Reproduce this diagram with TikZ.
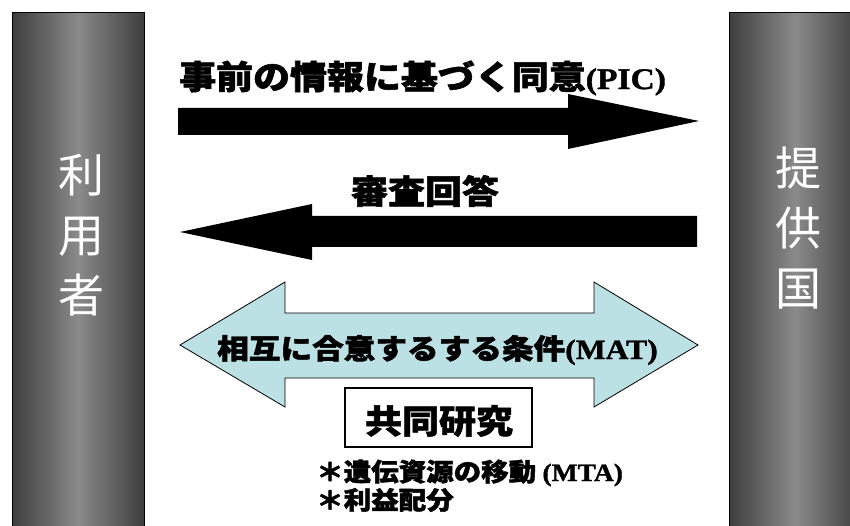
\documentclass[tikz,border=0pt]{standalone}
\usepackage{fontspec}
\newfontfamily\jp{Noto Sans CJK JP}[BoldFeatures={FakeBold=1.6}]
\newfontfamily\lat{Liberation Serif}[BoldFeatures={FakeBold=1.2}]
\definecolor{pdark}{RGB}{62,62,62}
\definecolor{plight}{RGB}{138,138,138}
\definecolor{matblue}{RGB}{188,225,228}
\tikzset{
  pillar/.style={left color=pdark,right color=pdark,middle color=plight},
  pillartext/.style={text=white,inner sep=0pt,align=center,font=\jp\fontsize{46}{60}\selectfont},
  bigtext/.style={inner sep=0pt,text=black,font=\jp\bfseries},
  bigarrow/.style={fill=black},
  matarrow/.style={fill=matblue,draw=black,line width=0.8pt,line join=miter},
  jointbox/.style={draw=black,fill=white,line width=1.2pt,minimum width=187pt,minimum height=59pt,inner sep=0pt}
}
\begin{document}
\begin{tikzpicture}[x=1pt,y=-1pt]
\useasboundingbox (0,0) rectangle (850,526);
\clip (0,0) rectangle (850,526);
\fill[white] (0,0) rectangle (850,526);
% pillars
\shade[pillar] (12,13) rectangle (144,530);
\draw[line width=1pt] (12,530) -- (12,13) -- (144,13) -- (144,530);
\shade[pillar] (729,13) rectangle (861,530);
\draw[line width=1pt] (729,530) -- (729,13) -- (861,13);
\node[pillartext] (user) at (81,235) {利\\用\\者};
\node[pillartext] (prov) at (798,228) {提\\供\\国};
% arrow 1 PIC
\fill[bigarrow] (178,108) -- (568,108) -- (568,94) -- (699,121) -- (568,149) -- (568,135) -- (178,135) -- cycle;
\node[bigtext,anchor=west] (pic) at (179,78) {\scalebox{1.12}[1]{\fontsize{33}{36}\selectfont 事前の情報に基づく同意{\lat\bfseries\fontsize{30}{36}\selectfont (PIC)}}};
% arrow 2
\fill[bigarrow] (697,216) -- (312,216) -- (312,204) -- (180,232) -- (312,260) -- (312,247) -- (697,247) -- cycle;
\node[bigtext] (resp) at (425,191) {\scalebox{1.12}[1]{\fontsize{33}{36}\selectfont 審査回答}};
% MAT double arrow
\filldraw[matarrow] (180,345) -- (285,282) -- (285,313) -- (594,313) -- (594,282) -- (698,345) -- (594,407) -- (594,378) -- (285,378) -- (285,407) -- cycle;
\node[bigtext,anchor=west] (mat) at (217,350) {\scalebox{1.13}[1]{\fontsize{28}{32}\selectfont 相互に合意するする条件{\lat\bfseries (MAT)}}};
% joint research box
\node[jointbox] (joint) at (438.5,417.5) {};
\node[bigtext] (jointtext) at (439,421) {\scalebox{1.12}[1]{\fontsize{33}{36}\selectfont 共同研究}};
% bullets
\node[bigtext,anchor=west] (b1) at (316,473) {\scalebox{1.1}[1]{\fontsize{25}{30}\selectfont ＊遺伝資源の移動 {\lat\bfseries (MTA)}}};
\node[bigtext,anchor=west] (b2) at (316,500) {\scalebox{1.1}[1]{\fontsize{25}{30}\selectfont ＊利益配分}};
\end{tikzpicture}
\end{document}
